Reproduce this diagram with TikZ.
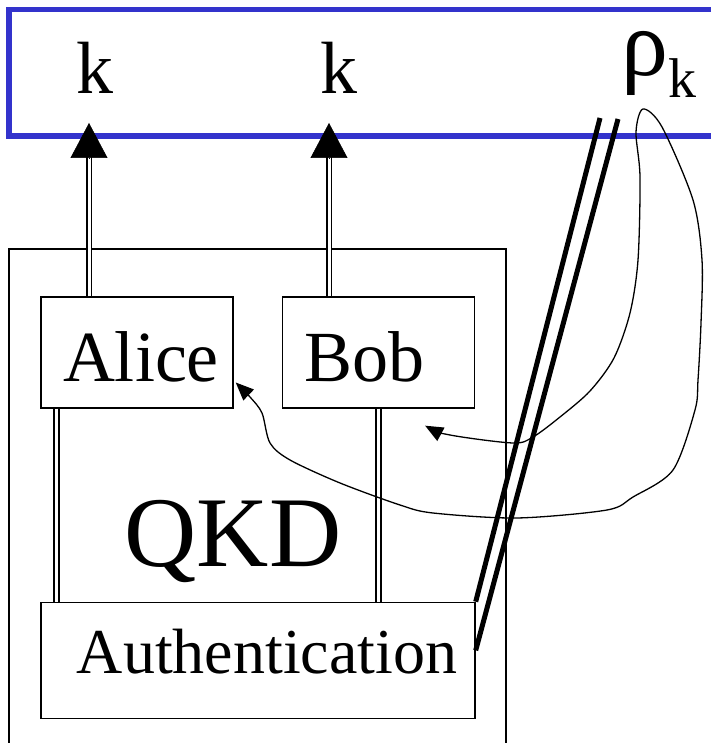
\documentclass[tikz,border=0pt]{standalone}
\usepackage{fontspec}
\setmainfont{Liberation Serif}
\usetikzlibrary{positioning,arrows.meta}
\usepackage{xcolor}
\definecolor{keyblue}{RGB}{51,51,204}

\begin{document}
\begin{tikzpicture}[
        x=1pt, y=1pt,
        node distance=48pt,
        party/.style={
            draw,
            line width=1.4pt,
            minimum height=111pt,
            text width=148pt,
            inner xsep=22pt,
            inner ysep=0pt,
            align=left,
            text height=59pt,
            text depth=0pt,
            font=\fontsize{72}{80}\selectfont
        },
        authbox/.style={
            draw,
            line width=1.4pt,
            minimum width=434pt,
            minimum height=116pt,
            inner sep=0pt,
            text depth=18pt,
            font=\fontsize{64}{70}\selectfont
        },
        keylabel/.style={anchor=base, inner sep=0pt, font=\fontsize{74}{80}\selectfont},
        keyframe/.style={draw=keyblue, line width=5.5pt},
        frame/.style={line width=1.3pt},
        rail/.style={double, line width=1.8pt, double distance=3pt},
        keytip/.style={-{Triangle[length=35pt,width=37pt]}, line width=0.5pt},
        qline/.style={line width=5pt},
        wire/.style={line width=1.3pt, line join=round,
            {Triangle[length=18pt,width=15pt]}-{Triangle[length=18pt,width=15pt]}}
    ]
        \useasboundingbox (0,0) rectangle (711,743);

        % Key register on top
        \draw[keyframe] (711,733.5) -- (9,733.5) -- (9,607) -- (711,607);
        \node[keylabel] (kA) at (95,649) {k};
        \node[keylabel] (kB) at (339,649) {k};
        \node[anchor=base west, inner sep=0pt, font=\fontsize{94}{100}\selectfont] (rho) at (621,667)
            {ρ\raisebox{-22pt}{\fontsize{56}{60}\selectfont k}};

        % QKD frame
        \draw[frame] (9,-5) -- (9,494) -- (506,494) -- (506,-5);
        \node[anchor=base, inner sep=0pt, font=\fontsize{100}{110}\selectfont] (qkd) at (233,176) {QKD};

        % Parties and authentication
        \node[party] (alice) at (137,390.5) {Alice};
        \node[party, right=of alice] (bob) {Bob};
        \node[authbox, below=193pt of alice.south west, anchor=north west] (auth)
            {\hspace*{18pt}Authentication};

        % Classical links
        \coordinate (railA) at ([xshift=16pt]alice.south west);
        \draw[rail] (railA) -- (railA |- auth.north);
        \draw[rail] (bob.south) -- (bob.south |- auth.north);

        % Key outputs
        \coordinate (tipA) at (89,620);
        \coordinate (tipB) at (329,620);
        \draw[rail, shorten >=34pt] (tipA |- alice.north) -- (tipA);
        \draw[rail, shorten >=34pt] (tipB |- bob.north) -- (tipB);
        \draw[keytip] ([yshift=-35pt]tipA) -- (tipA);
        \draw[keytip] ([yshift=-35pt]tipB) -- (tipB);

        % Quantum channel
        \coordinate (chanL) at (600,625);
        \coordinate (chanR) at (618,624);
        \draw[qline] (chanL) -- (auth.north east);
        \draw[qline] (chanR) -- ([yshift=10pt]auth.east);

        % State handed to Bob and Alice
        \draw[wire] plot[smooth, tension=0.5] coordinates {
            ([shift={(-50pt,-17pt)}]bob.south east)
            (450,308) (513,300) (533,306) (560,326) (590,352) (614,385) (630,430)
            (638,483) (640,566) (636,611) (643,634) (662,616) (693,543) (702,483)
            (701,420) (698,363) (695,333) (673,273) (633,246) (607,233) (517,225)
            (433,230) (400,238) (340,260) (290,283) (270,300) (262,330) (250,346)
            ([shift={(2pt,-30pt)}]alice.east)
        };
\end{tikzpicture}
\end{document}
